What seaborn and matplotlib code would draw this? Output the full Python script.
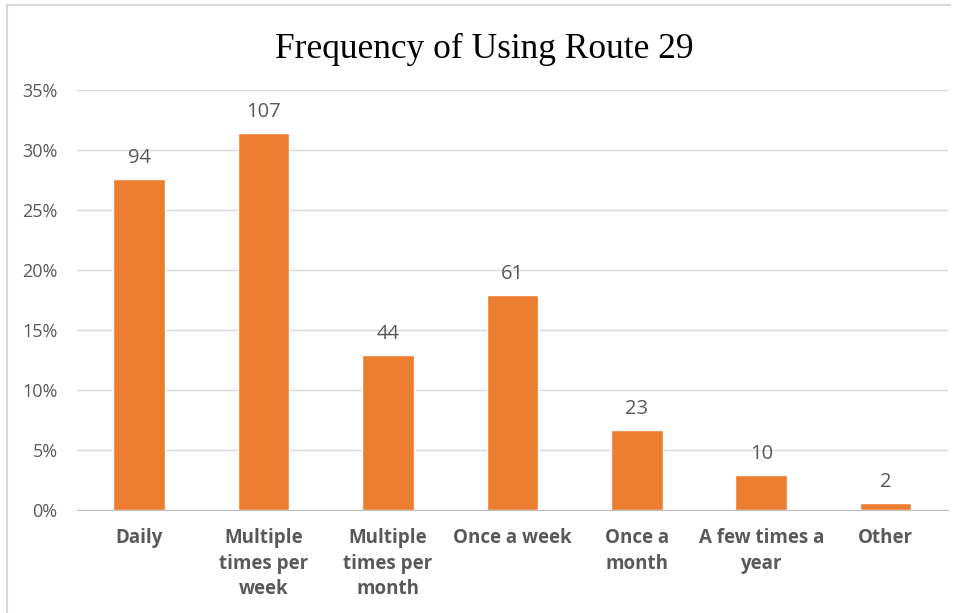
import matplotlib
matplotlib.use("Agg")
import matplotlib.pyplot as plt
from matplotlib.lines import Line2D
from matplotlib.ticker import PercentFormatter
import pandas as pd
import seaborn as sns

categories = ["Daily", "Multiple\ntimes per\nweek", "Multiple\ntimes per\nmonth",
              "Once a week", "Once a\nmonth", "A few times a\nyear", "Other"]
counts = [94, 107, 44, 61, 23, 10, 2]
shares = [27.6, 31.4, 12.9, 17.9, 6.7, 2.9, 0.6]

df = pd.DataFrame({"category": categories, "share": shares, "count": counts})

sns.set_style("white")
plt.rcParams["font.family"] = ["Open Sans", "DejaVu Sans"]

grey = "#595959"
fig = plt.figure(figsize=(9.58, 6.13), dpi=100)
ax = fig.add_axes([0.0804, 0.168, 0.909, 0.685])

sns.barplot(data=df, x="category", y="share", color="#ED7D31", width=0.415,
            saturation=1, ax=ax)

for i, (s, c) in enumerate(zip(shares, counts)):
    ax.annotate(str(c), (i, s), xytext=(0, 8), textcoords="offset points",
                ha="center", va="bottom", fontsize=14.5, color=grey)

ax.set_ylim(0, 35)
ax.set_xlim(-0.5, len(categories) - 0.5)
ax.yaxis.set_major_formatter(PercentFormatter(decimals=0))
ax.set_yticks(range(0, 36, 5))
ax.grid(axis="y", color="#D9D9D9", linewidth=1)
ax.set_axisbelow(True)
ax.set_xlabel("")
ax.set_ylabel("")
for side in ["top", "right", "left"]:
    ax.spines[side].set_visible(False)
ax.spines["bottom"].set_color("#BFBFBF")

ax.tick_params(axis="y", length=0, labelsize=13, labelcolor=grey, pad=14)
ax.tick_params(axis="x", length=0, labelsize=13.5, labelcolor=grey, pad=13)
for lbl in ax.get_xticklabels():
    lbl.set_fontweight("bold")
    lbl.set_linespacing(1.38)

# boundary ticks between categories
ax.set_xticks([i - 0.5 for i in range(len(categories) + 1)], minor=True)
ax.tick_params(axis="x", which="minor", length=5, color="#BFBFBF", width=1)

fig.text(0.506, 0.919, "Frequency of Using Route 29", ha="center", va="center",
         fontsize=25.5, family=["Liberation Serif", "DejaVu Serif"], color="black")

fig.add_artist(Line2D([0.0073, 0.992], [0.992, 0.992], color="#D9D9D9", lw=1.5,
                      transform=fig.transFigure))
fig.add_artist(Line2D([0.0073, 0.0073], [0.992, 0.0], color="#D9D9D9", lw=1.5,
                      transform=fig.transFigure))

fig.savefig("out.png", dpi=100, facecolor="white")
